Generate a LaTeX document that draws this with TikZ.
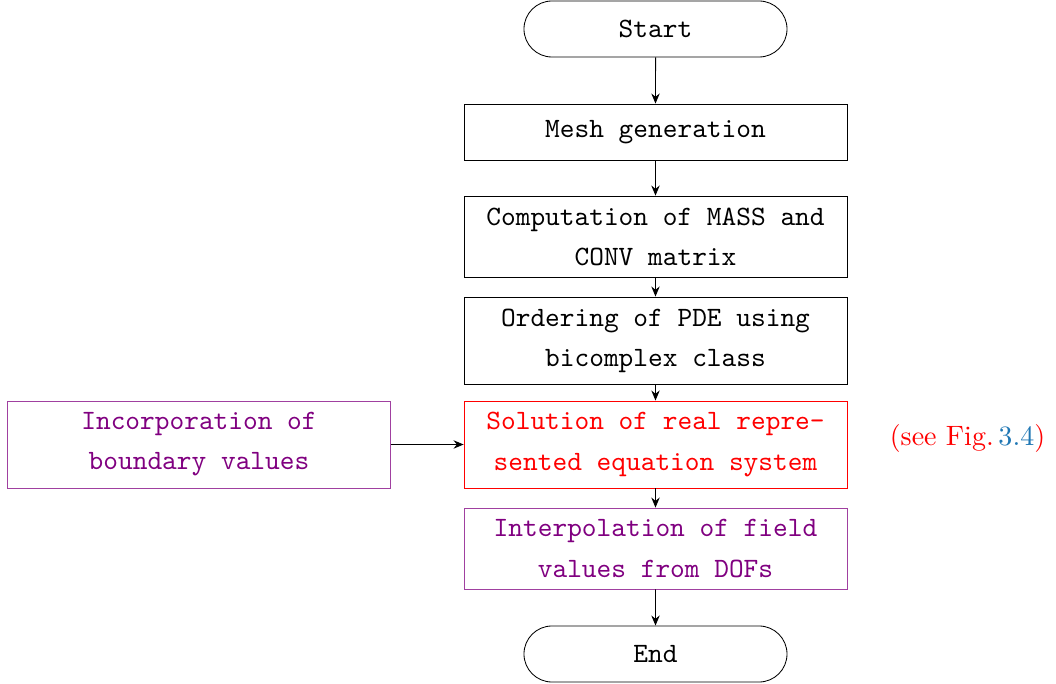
\documentclass[tikz,border=0pt]{standalone}
\usetikzlibrary{arrows.meta,shapes.misc}
\definecolor{boxpurple}{RGB}{128,0,128}
\definecolor{linkblue}{RGB}{31,119,180}
\begin{document}
\begin{tikzpicture}[x=0.357pt,y=-0.357pt,
  base/.style={draw, line width=0.3pt, inner sep=0pt, align=center,
    font=\ttfamily\fontsize{10pt}{14.3pt}\selectfont,
    minimum width=136.7pt},
  terminal/.style={base, rounded rectangle, minimum width=93.9pt, minimum height=20pt},
  procbox/.style={base, rectangle},
  link/.style={-{Stealth[length=3.6pt,width=3pt,inset=1.2pt]}, line width=0.35pt}
]
\useasboundingbox (0,0) rectangle (1056,684);

\node[terminal] (start) at (655.5,29) {Start};
\node[procbox, minimum height=20pt] (mesh) at (655.5,132) {Mesh generation};
\node[procbox, minimum height=28.9pt] (comp) at (655.5,236.5)
  {Computation of MASS and\\CONV matrix};
\node[procbox, minimum height=31.1pt] (order) at (655.5,340.5)
  {Ordering of PDE using\\bicomplex class};
\node[procbox, draw=red, text=red, minimum height=31.1pt] (solve) at (655.5,444.5)
  {Solution of real repre-\\sented equation system};
\node[procbox, draw=boxpurple!75, text=boxpurple, minimum height=31.1pt] (bound) at (199,444.5)
  {Incorporation of\\boundary values};
\node[procbox, draw=boxpurple!75, text=boxpurple, minimum height=28.9pt] (interp) at (655.5,548.5)
  {Interpolation of field\\values from DOFs};
\node[terminal] (end) at (655.5,654) {End};

\node[text=red, inner sep=0pt, font=\fontsize{10pt}{12pt}\selectfont] (ref) at (967.5,438)
  {(see Fig.\,\textcolor{linkblue}{3.4})};

\draw[link] (start) -- (mesh);
\draw[link] (mesh) -- (comp);
\draw[link] (comp) -- (order);
\draw[link] (order) -- (solve);
\draw[link] (solve) -- (interp);
\draw[link] (interp) -- (end);
\draw[link] (bound) -- (solve);
\end{tikzpicture}
\end{document}
